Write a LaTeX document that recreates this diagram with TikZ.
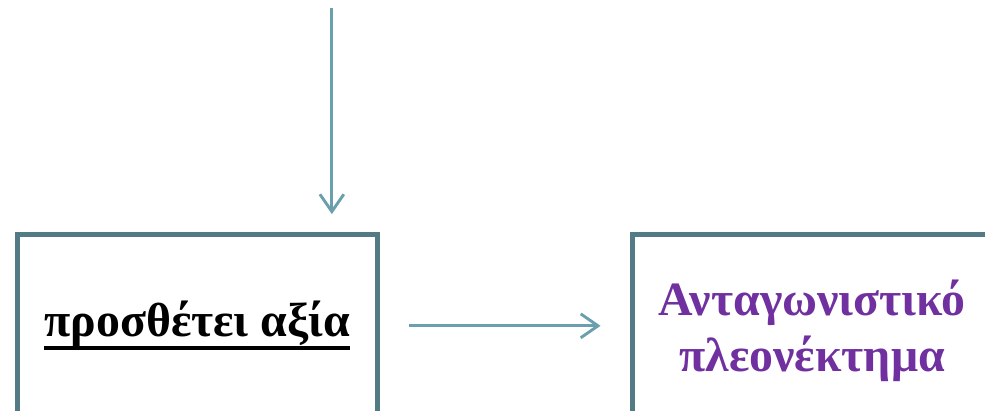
\documentclass[tikz,border=0pt]{standalone}
\usepackage{fontspec}
\setmainfont{Liberation Serif}
\usepackage{tikz}
\usetikzlibrary{positioning}
\usetikzlibrary{arrows.meta}
\definecolor{boxline}{HTML}{527B85}
\definecolor{arrowline}{HTML}{6A9FAE}
\definecolor{advpurple}{HTML}{7030A0}
\newcommand{\thickul}[1]{\setbox0\hbox{#1}\rlap{\raisebox{-10pt}{\rule{\wd0}{3pt}}}\box0}

\begin{document}
\begin{tikzpicture}[
    box/.style={draw=boxline, line width=3.75pt, minimum width=9.51cm, minimum height=4.84cm,
        font=\fontsize{36}{42}\selectfont\bfseries, align=center},
    flow/.style={-{Straight Barb[length=13pt,width=18pt,line width=2.2pt]}, draw=arrowline, line width=2.2pt}]

                \useasboundingbox (0,0) rectangle (26.06,-10.87);
                \clip (0,0) rectangle (26.06,-10.87);

                % Nodes
                \node at (5.22,-8.62) (value) [box] {\thickul{προσθέτει αξία}};
                \node at (21.49,-8.62) (advantage) [box, text=advpurple, text depth=0pt] {Ανταγωνιστικό\\πλεονέκτημα};
                \coordinate (source) at (8.78,-0.21);

                % Arrows
                \draw[flow, shorten >=0.47cm] (source) -- (source |- value.north);
                \draw[flow, shorten <=0.78cm, shorten >=0.78cm] (value) -- (advantage);

            \end{tikzpicture}
\end{document}
